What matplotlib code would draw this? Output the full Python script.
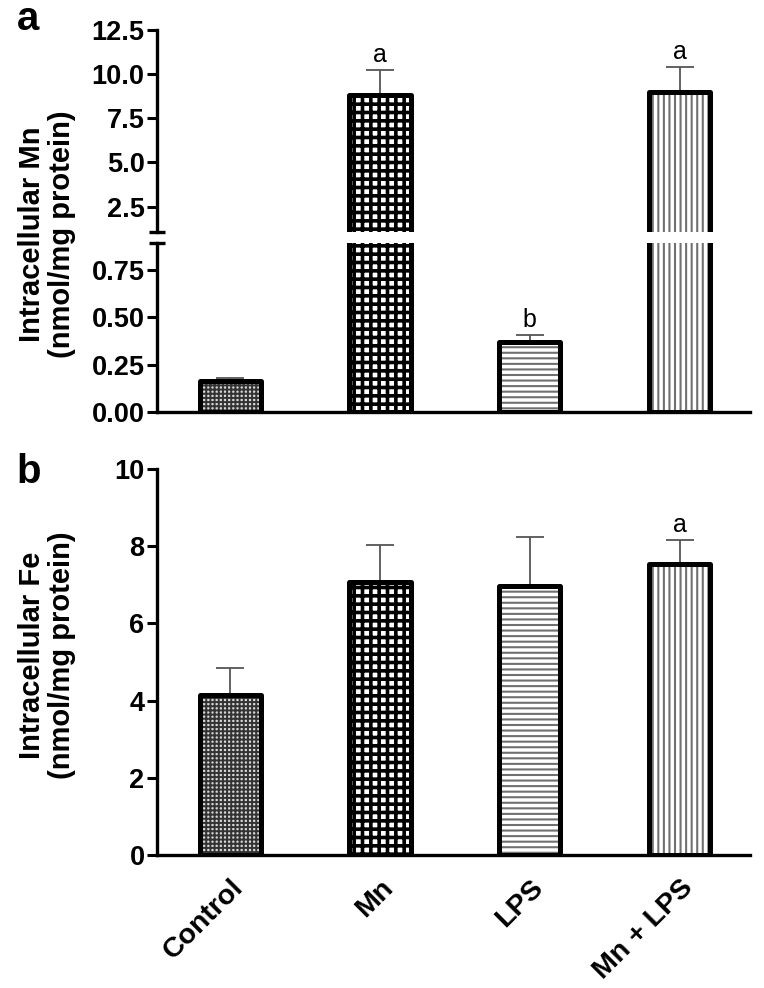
import matplotlib
matplotlib.use("Agg")
import matplotlib.pyplot as plt
import numpy as np

# ---- data ----
categories = ["Control", "Mn", "LPS", "Mn + LPS"]
mn_values = [0.165, 8.80, 0.37, 9.00]
mn_errors = [0.012, 1.45, 0.035, 1.40]
mn_letters = ["", "a", "b", "a"]
fe_values = [4.15, 7.08, 6.98, 7.55]
fe_errors = [0.70, 0.95, 1.27, 0.62]
fe_letters = ["", "", "", "a"]

top_ticks = [2.5, 5.0, 7.5, 10.0, 12.5]
top_tick_labels = ["2.5", "5.0", "7.5", "10.0", "12.5"]
low_ticks = [0.0, 0.25, 0.50, 0.75]
low_tick_labels = ["0.00", "0.25", "0.50", "0.75"]
fe_ticks = [0, 2, 4, 6, 8, 10]
fe_tick_labels = ["0", "2", "4", "6", "8", "10"]

plt.rcParams["font.family"] = ["Liberation Sans", "DejaVu Sans"]

# styles per bar: (face, hatch, hatch color, hatch lw)
styles = [
    ("#d8d8d8", "++++", "#333333", 1.4),
    ("white", "++", "#000000", 2.6),
    ("white", "---", "#707070", 1.5),
    ("white", "|||", "#707070", 1.5),
]

x = np.arange(len(categories))
bw = 0.41
EDGE_LW = 3.6
TICK_FS = 19.5
LABEL_FS = 21

fig = plt.figure(figsize=(7.64, 9.88), dpi=100)
L, W = 0.2055, 0.776
ax_top = fig.add_axes([L, 0.765, W, 0.2045])
ax_low = fig.add_axes([L, 0.583, W, 0.171])
ax_b = fig.add_axes([L, 0.1346, W, 0.3907])


def draw_bars(ax, vals, errs):
    ax.errorbar(x, vals, yerr=[np.zeros(len(vals)), errs], fmt="none",
                ecolor="#555555", elinewidth=1.3, capsize=10, capthick=1.3,
                zorder=1)
    for i, v in enumerate(vals):
        face, hatch, hc, hlw = styles[i]
        with plt.rc_context({"hatch.linewidth": hlw}):
            ax.bar(x[i], v, width=bw, color=face, edgecolor=hc, hatch=hatch,
                   linewidth=0, zorder=2)
        ax.bar(x[i], v, width=bw, fill=False, edgecolor="black",
               linewidth=EDGE_LW, joinstyle="round", zorder=3)


def style_axis(ax):
    for s in ["top", "right"]:
        ax.spines[s].set_visible(False)
    ax.spines["left"].set_linewidth(2.4)
    ax.spines["bottom"].set_linewidth(2.4)
    ax.tick_params(axis="y", direction="out", length=7, width=2.2,
                   labelsize=TICK_FS, pad=2)
    ax.tick_params(axis="x", length=0)
    for lab in ax.get_yticklabels():
        lab.set_fontweight("bold")
    ax.set_xlim(-0.49, 3.47)


# ---- panel a ----
for ax in (ax_top, ax_low):
    draw_bars(ax, mn_values, mn_errors)
ax_top.set_ylim(1.05, 12.5)
ax_low.set_ylim(0, 0.89)
ax_top.set_yticks(top_ticks)
ax_top.set_yticklabels(top_tick_labels)
ax_low.set_yticks(low_ticks)
ax_low.set_yticklabels(low_tick_labels)
style_axis(ax_top)
style_axis(ax_low)
ax_top.spines["bottom"].set_visible(False)
ax_top.set_xticks([])
ax_low.set_xticks([])
# break marks
ax_top.plot([0], [0], marker="_", ms=12, mew=2.4, color="black",
            transform=ax_top.transAxes, clip_on=False)
ax_low.plot([0], [1], marker="_", ms=12, mew=2.4, color="black",
            transform=ax_low.transAxes, clip_on=False)

for i, lt in enumerate(mn_letters):
    if lt:
        v = mn_values[i] + mn_errors[i]
        ax = ax_top if v > 1.05 else ax_low
        ax.annotate(lt, (x[i], v), xytext=(0, 2), textcoords="offset points",
                    ha="center", va="bottom", fontsize=18)

# ---- panel b ----
draw_bars(ax_b, fe_values, fe_errors)
ax_b.set_ylim(0, 10)
ax_b.set_yticks(fe_ticks)
ax_b.set_yticklabels(fe_tick_labels)
style_axis(ax_b)
ax_b.set_xticks(x)
ax_b.set_xticklabels(categories, rotation=45, ha="right",
                     rotation_mode="anchor", fontsize=LABEL_FS - 0.5,
                     fontweight="bold")
ax_b.tick_params(axis="x", pad=14)
for i, lt in enumerate(fe_letters):
    if lt:
        ax_b.annotate(lt, (x[i], fe_values[i] + fe_errors[i]), xytext=(0, 2),
                      textcoords="offset points", ha="center", va="bottom",
                      fontsize=18)

# axis labels
fig.text(0.062, 0.763, "Intracellular Mn\n(nmol/mg protein)", rotation=90,
         ha="center", va="center", fontsize=LABEL_FS, fontweight="bold",
         linespacing=1.1)
fig.text(0.062, 0.337, "Intracellular Fe\n(nmol/mg protein)", rotation=90,
         ha="center", va="center", fontsize=LABEL_FS, fontweight="bold",
         linespacing=1.1)

# panel letters
fig.text(0.022, 0.9696, "a", ha="left", va="baseline", fontsize=29,
         fontweight="bold")
fig.text(0.022, 0.511, "b", ha="left", va="baseline", fontsize=29,
         fontweight="bold")

fig.savefig("out.png", dpi=100)
